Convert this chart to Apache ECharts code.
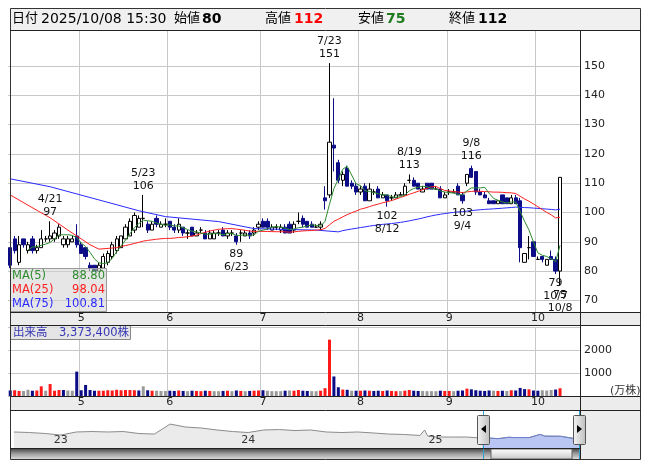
<!DOCTYPE html>
<html><head><meta charset="utf-8">
<script src="https://cdn.jsdelivr.net/npm/echarts@6/dist/echarts.min.js"></script>
<style>html,body{margin:0;padding:0;background:#fff}#c{width:653px;height:470px}</style>
</head><body><div id="c"></div><script>
// ---------- data ----------
const dates = ['4/8','4/9','4/10','4/11','4/14','4/15','4/16','4/17','4/18','4/21','4/22','4/23','4/24','4/25','4/28','4/30',
'5/1','5/2','5/7','5/8','5/9','5/12','5/13','5/14','5/15','5/16','5/19','5/20','5/21','5/22','5/23','5/26','5/27','5/28','5/29','5/30',
'6/2','6/3','6/4','6/5','6/6','6/9','6/10','6/11','6/12','6/13','6/16','6/17','6/18','6/19','6/20','6/23','6/24','6/25','6/26','6/27','6/30',
'7/1','7/2','7/3','7/4','7/7','7/8','7/9','7/10','7/11','7/14','7/15','7/16','7/17','7/18','7/22','7/23','7/24','7/25','7/28','7/29','7/30','7/31',
'8/1','8/4','8/5','8/6','8/7','8/8','8/12','8/13','8/14','8/15','8/18','8/19','8/20','8/21','8/22','8/25','8/26','8/27','8/28','8/29',
'9/1','9/2','9/3','9/4','9/5','9/8','9/9','9/10','9/11','9/12','9/16','9/17','9/18','9/19','9/22','9/24','9/25','9/26','9/29','9/30',
'10/1','10/2','10/3','10/6','10/7','10/8'];
const opens = [88,91,83,91,87,91,87,88,91,91,91,92,89,89,90,92,
89,88,82,82,80,81,83,85,87,88,91,92,94,95,98,96,94,98,95,96,
97,95,94,95,93,95,92,94,93,91,91,93,94,92,93,92,93,92,93,93,95,
97,97,94,95,94,95,96,94,97,98,97,96,95,95,105,106,123,117,111,115,110,109,
107,109,104,107,108,105,106,105,105,106,106,111,111,110,107,110,110,108,108,105,
107,107,109,106,110,115,114,107,106,104,104,103,106,105,103,105,104,83,88,90,
84,85,82,85,84,80];
const highs = [88,92,92,91,90,92,89,94,92,97,94,96,92,92,92,96,
90,88,83,82,83,86,87,90,92,92,96,98,100,99,106,97,97,99,97,98,
97,96,98,95,94,95,94,95,94,94,94,94,95,94,94,93,94,94,94,95,97,
98,98,96,96,96,96,97,97,100,99,97,97,96,97,109,151,139,118,114,116,111,110,
109,110,110,108,109,107,106,106,107,107,110,113,112,110,109,110,110,109,109,107,
108,108,110,107,113,116,114,108,107,105,104,104,106,105,106,106,105,86,92,90,
85,85,84,87,85,112];
const lows = [81,86,82,88,86,86,86,88,90,90,90,91,88,88,90,88,
86,84,80,80,80,81,82,84,86,88,91,92,93,95,95,93,94,95,95,95,
94,93,93,92,91,92,92,93,91,91,91,92,92,91,92,89,90,92,91,92,94,
95,94,94,94,93,93,93,93,96,95,95,95,95,94,101,105,114,110,109,109,108,106,
106,104,104,106,105,105,102,104,105,106,106,110,109,108,107,108,108,108,105,105,
106,107,106,103,109,112,106,106,105,103,103,103,103,103,103,103,83,83,84,85,
84,83,82,84,79,75];
const closes = [82,87,89,89,89,87,88,91,91,92,93,95,91,91,91,89,
86,85,81,80,82,85,86,89,91,92,95,97,99,98,98,94,96,96,96,96,
95,94,96,93,93,92,93,94,91,93,93,93,92,93,93,90,93,93,92,94,96,
95,95,95,95,95,93,93,96,97,96,95,95,95,96,104,124,122,111,113,109,109,107,
108,104,108,107,105,106,104,105,106,106,109,111,109,108,108,108,108,108,105,106,
107,107,106,104,113,112,107,106,105,103,103,104,103,103,105,103,88,86,88,85,
84,84,84,84,80,112];
// volume in 万株
const volumes = [240,250,220,220,270,230,240,420,230,520,230,260,260,240,230,1060,
250,480,260,230,230,230,250,240,270,250,260,260,250,240,420,250,230,230,220,220,
230,220,240,220,210,230,220,210,230,220,210,210,220,230,210,240,220,210,220,230,240,
250,230,210,210,210,230,240,230,260,230,220,210,210,230,340,2450,850,380,280,270,230,230,
230,240,230,220,230,220,240,220,210,210,230,260,230,220,220,210,210,210,230,220,
220,210,230,240,320,290,250,230,220,240,230,220,230,220,250,240,350,300,290,240,
230,250,240,260,280,337.34];
const lastVolumeShares = 3373400;
const quoteTime = '2025/10/08 15:30';
// moving averages read from the picture where earlier history is not shown
const ma25ReadDates = ['4/8','4/14','4/21','4/25','5/1','5/7','5/9'];
const ma25ReadValues = [106,102.5,98.2,94,91,89,87.5];
const ma75ReadDates = ['4/8','4/21','5/9','5/22','5/30','6/17','6/27','7/9','7/17'];
const ma75ReadValues = [111.5,108.8,104.3,100.6,98.6,96.9,94.5,94.2,94.0];
const maLegend = [['MA(5)','88.80'],['MA(25)','98.04'],['MA(75)','100.81']];
const peakDates = ['4/21','5/23','7/23','8/19','9/8'];
const troughDates = ['6/23','8/12','9/4','10/7','10/8'];
const priceTicks = [70,80,90,100,110,120,130,140,150];
// navigator (months from Jan 2023) and long-term closes
const navMonths = [-3,-2,-1,0,1,2,3,4,5,6,7,8,9,10,11,12,13,14,15,16,17,18,19,20,21,22,23,23.3,23.5,24,25,26,27,27.5,28,28.7,29,30,30.7,31,32,32.8,33.25];
const navValues = [146,141,132,118,146,150,146,150,132,127,218,191,182,164,150,141,164,168,159,164,146,141,146,137,127,123,114,164,109,100,100,100,90,90,85,98,95,95,124,108,107,88,112];
const navYearTicks = [0,12,24];
const navSelectStart = 27;

// ---------- build ----------
const FONT = '"DejaVu Sans","Noto Sans CJK JP",sans-serif';
const GRIDC = '#c8c8c8';
const NAVY = '#0c0c86';
const N = dates.length;
const cats = dates.concat(['', ' ', '  ', '   ']);
const mon = s => s.split('/')[0];
const isMonthStart = i => i > 0 && i < N && mon(dates[i]) !== mon(dates[i-1]);

function maComputed(p){
  const out = new Array(cats.length).fill(null);
  for (let i = p-1; i < N; i++){ let s=0; for(let k=i-p+1;k<=i;k++) s+=closes[k]; out[i]=+(s/p).toFixed(2); }
  return out;
}
function withRead(arr, rd, rv){ rd.forEach((d,k)=>{ const i=dates.indexOf(d); if(arr[i]==null) arr[i]=rv[k]; }); return arr; }
const ma5 = maComputed(5);
const ma25 = withRead(maComputed(25), ma25ReadDates, ma25ReadValues);
const ma75 = withRead(maComputed(75), ma75ReadDates, ma75ReadValues);

const candles = dates.map((d,i)=>[opens[i], closes[i], lows[i], highs[i]]);
const volData = volumes.map((v,i)=>{
  const prev = i>0 ? closes[i-1] : opens[i];
  const c = closes[i] > prev ? '#ff1a1a' : (closes[i] < prev ? NAVY : '#9a9a9a');
  return {value:v, itemStyle:{color:c}};
});
const marks = peakDates.map(d=>{const i=dates.indexOf(d); return {coord:[d, highs[i]], label:{position:'top', distance:2, formatter: d+'\n'+highs[i]}};})
 .concat(troughDates.map(d=>{const i=dates.indexOf(d); return {coord:[d, lows[i]], label:{position:'bottom', distance:2, formatter: lows[i]+'\n'+d}};}));
const navAll = navMonths.map((m,i)=>[m, navValues[i]]);
const navSel = navAll.filter(p=>p[0]>=navSelectStart);

// decorations
function rect(x,y,w,h,style,z){return {type:'rect',shape:{x,y,width:w,height:h},style,z:(z===undefined?-10:z),silent:true};}
function ln(x1,y1,x2,y2,stroke,z){return {type:'line',shape:{x1,y1,x2,y2},style:{stroke,lineWidth:1},z:(z===undefined?100:z),silent:true};}
function txt(x,y,t,font,fill,align){return {type:'text',x,y,style:{text:t,font,fill,align:align||'left',verticalAlign:'middle'},z:101,silent:true};}
const li = N-1;
const fmtShares = n => n.toString().replace(/\B(?=(\d{3})+(?!\d))/g, ',');
const hdrF = '14px ' + FONT, hdrB = 'bold 14px ' + FONT;
const grad = (c1,c2,c3) => ({type:'linear',x:0,y:0,x2:0,y2:1,colorStops:[{offset:0,color:c1},{offset:0.5,color:c2},{offset:1,color:c3}]});
const deco = [
  rect(10,8,631,22,{fill:'#f0f0f0'}),
  rect(10,312,631,13,{fill:'#ececec'}),
  rect(10,396,631,14,{fill:'#ececec'}),
  rect(580,410,61,49,{fill:'#ececec'}),
  rect(10,448,570,11,{fill:grad('#3a3a3a','#9a9a9a','#d8d8d8')},90),
  rect(491,449,81,10,{fill:grad('#ffffff','#e6e6e6','#c4c4c4'),stroke:'#666',lineWidth:1},91),
  // frame lines
  {type:'rect',shape:{x:10.5,y:8.5,width:630,height:451},style:{fill:null,stroke:'#333',lineWidth:1},z:100,silent:true},
  ln(10,30.5,641,30.5,'#222'), ln(10,312.5,641,312.5,'#222'), ln(10,325.5,641,325.5,'#222'),
  ln(10,396.5,641,396.5,'#222'), ln(10,410.5,641,410.5,'#222'), ln(10,448.5,580,448.5,'#222'),
  ln(580.5,30,580.5,459,'#222'),
  // navigator selection
  ln(483.5,411,483.5,459,'#2aa3d6',95), ln(579.5,411,579.5,459,'#2aa3d6',95),
  {type:'rect',shape:{x:477.5,y:415.5,width:12,height:29,r:1},style:{fill:{type:'linear',x:0,y:0,x2:1,y2:0,colorStops:[{offset:0,color:'#f5f5f5'},{offset:1,color:'#bdbdbd'}]},stroke:'#555',lineWidth:1},z:102,silent:true},
  {type:'polygon',shape:{points:[[486,425],[486,433],[481,429]]},style:{fill:'#000'},z:103,silent:true},
  {type:'rect',shape:{x:573.5,y:415.5,width:12,height:29,r:1},style:{fill:{type:'linear',x:0,y:0,x2:1,y2:0,colorStops:[{offset:0,color:'#f5f5f5'},{offset:1,color:'#bdbdbd'}]},stroke:'#555',lineWidth:1},z:102,silent:true},
  {type:'polygon',shape:{points:[[577,425],[577,433],[582,429]]},style:{fill:'#000'},z:103,silent:true},
  // MA legend box
  {type:'rect',shape:{x:10.5,y:268.5,width:96,height:43},style:{fill:'rgba(210,210,210,0.55)',stroke:'#999',lineWidth:1},z:99,silent:true},
  // volume label box
  {type:'rect',shape:{x:10.5,y:325.5,width:120,height:14},style:{fill:'rgba(225,225,225,0.85)',stroke:'#888',lineWidth:1},z:99,silent:true},
  txt(13,333,'出来高　' + fmtShares(lastVolumeShares) + '株','11.5px '+FONT,'#3535b5'),
  txt(610,391,'(万株)','11px '+FONT,'#333'),
  // header
  txt(12,19,'日付','13px '+FONT,'#000'),
  txt(41,19,quoteTime,hdrF,'#000'),
  txt(174,19,'始値','13px '+FONT,'#000'),
  txt(202,19,String(opens[li]),hdrB,'#000'),
  txt(265,19,'高値','13px '+FONT,'#000'),
  txt(294,19,String(highs[li]),hdrB,'#ff0000'),
  txt(358,19,'安値','13px '+FONT,'#000'),
  txt(386,19,String(lows[li]),hdrB,'#1e7b1e'),
  txt(449,19,'終値','13px '+FONT,'#000'),
  txt(478,19,String(closes[li]),hdrB,'#000')
];
const maColors = ['#2e8b2e','#ff2020','#2a2aff'];
maLegend.forEach((m,k)=>{
  deco.push(txt(12,276+k*14,m[0],'11.5px '+FONT,maColors[k]));
  deco.push(txt(105,276+k*14,m[1],'11.5px '+FONT,maColors[k],'right'));
});

const axisLbl = {color:'#222', fontSize:11, fontFamily:FONT};
const catAxis = (gi, margin, showLbl) => ({
  type:'category', gridIndex:gi, data:cats, boundaryGap:true,
  axisLine:{show:false}, axisTick:{show:false},
  axisLabel:Object.assign({show:showLbl, interval:(i)=>isMonthStart(i), formatter:v=>mon(v), margin}, axisLbl),
  splitLine:{show:true, interval:(i)=>isMonthStart(i), lineStyle:{color:GRIDC}}
});
const chart = echarts.init(document.getElementById('c'), null, {renderer:'canvas'});
chart.setOption({
  animation:false,
  backgroundColor:'#fff',
  grid:[{left:8, top:30, width:572, height:282},
        {left:8, top:327, width:572, height:69},
        {left:10, top:411, width:570, height:37}],
  xAxis:[catAxis(0,1,true), catAxis(1,1,true),
    {type:'value', gridIndex:2, min:-3.25, max:33.25, z:20, axisLine:{show:false}, axisTick:{show:false}, splitLine:{show:false},
     axisLabel:Object.assign({customValues:navYearTicks, inside:true, margin:2, formatter:v=>String(23+Math.round(v/12))}, axisLbl, {color:'#333'})}],
  yAxis:[
    {type:'value', gridIndex:0, position:'right', min:66.04, max:162.3,
     axisLine:{show:false}, axisTick:{show:false, customValues:priceTicks},
     axisLabel:Object.assign({customValues:priceTicks, margin:4}, axisLbl),
     splitLine:{show:true, lineStyle:{color:GRIDC}}},
    {type:'value', gridIndex:1, position:'right', min:0, max:3000, interval:1000,
     axisLine:{show:false}, axisTick:{show:false},
     axisLabel:Object.assign({margin:4, formatter:v=>(v>0&&v<3000)?String(v):''}, axisLbl),
     splitLine:{show:true, lineStyle:{color:GRIDC}}},
    {type:'value', gridIndex:2, min:0, max:337, show:false}
  ],
  series:[
    {type:'candlestick', xAxisIndex:0, yAxisIndex:0, data:candles, barWidth:'85%',
     itemStyle:{color:'#ffffff', color0:NAVY, borderColor:'#000', borderColor0:NAVY, borderColorDoji:'#000', borderWidth:1},
     markPoint:{symbol:'circle', symbolSize:1, silent:true, itemStyle:{color:'rgba(0,0,0,0)'},
       label:{show:true, color:'#111', fontSize:11, lineHeight:13, fontFamily:FONT}, data:marks}},
    {type:'line', xAxisIndex:0, yAxisIndex:0, data:ma75, symbol:'none', connectNulls:true, lineStyle:{color:maColors[2], width:1}, z:3},
    {type:'line', xAxisIndex:0, yAxisIndex:0, data:ma25, symbol:'none', connectNulls:true, lineStyle:{color:maColors[1], width:1}, z:3},
    {type:'line', xAxisIndex:0, yAxisIndex:0, data:ma5, symbol:'none', connectNulls:true, lineStyle:{color:maColors[0], width:1}, z:3},
    {type:'bar', xAxisIndex:1, yAxisIndex:1, data:volData, barWidth:3},
    {type:'line', xAxisIndex:2, yAxisIndex:2, data:navAll, symbol:'none', lineStyle:{color:'#8c8c8c', width:1}, areaStyle:{color:'#ebebeb', opacity:1}},
    {type:'line', xAxisIndex:2, yAxisIndex:2, data:navSel, symbol:'none', lineStyle:{color:'#6f7fcf', width:1}, areaStyle:{color:'#b9c6f3', opacity:1}, z:3}
  ],
  graphic:{elements:deco}
});
</script></body></html>
